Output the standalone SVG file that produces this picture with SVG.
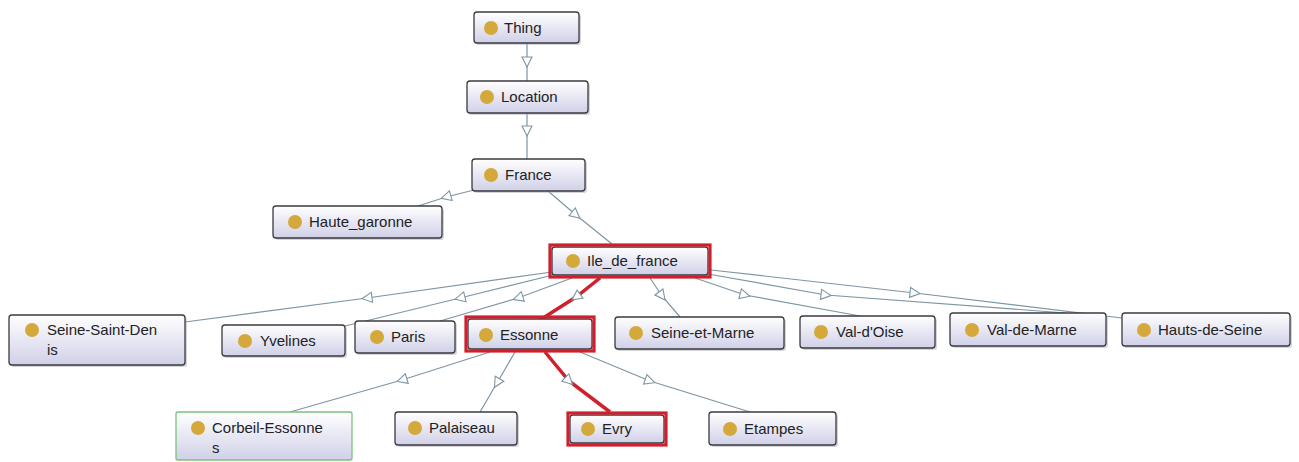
<svg xmlns="http://www.w3.org/2000/svg" width="1299" height="462" viewBox="0 0 1299 462">
<style>
.node rect.box{fill:url(#g);stroke:#3a3a40;stroke-width:1.3}
.node rect.sh{fill:#b0b0b8;opacity:.55}
.node circle{fill:#d4a83a}
.node text{font-family:"Liberation Sans",Arial,sans-serif;font-size:15px;fill:#222}
.hl{fill:none;stroke:#d0202e;stroke-width:3.2}
.edges path{fill:none;stroke:#7d96a3;stroke-width:1.2;marker-mid:url(#tri)}
.edges path.red{stroke:#d0202e;stroke-width:3.5}
</style>
<defs>
<linearGradient id="g" x1="0" y1="0" x2="0" y2="1">
<stop offset="0" stop-color="#ffffff"/>
<stop offset="1" stop-color="#d0d0e8"/>
</linearGradient>
<marker id="tri" viewBox="0 0 12 12" refX="6" refY="6" markerWidth="12" markerHeight="12" markerUnits="userSpaceOnUse" orient="auto">
<path d="M1,1 L11,6 L1,11 Z" fill="#ffffff" stroke="#7d96a3" stroke-width="1.1"/>
</marker>
</defs>
<rect width="1299" height="462" fill="#ffffff"/>
<g class="edges">
<path d="M527,43 L527,62 L527,81"/>
<path d="M527,113 L527,131 L527,159"/>
<path d="M474,190 L446,197 L418,206"/>
<path d="M548,191 L576,215 L612,244"/>
<path d="M552,272 L367,298 L185,322"/>
<path d="M553,275 L460,298 L345,326"/>
<path d="M572,278 L518,298 L440,321"/>
<path class="red" d="M600,278 L576,297 L540,320"/>
<path d="M650,278 L662,296 L680,317"/>
<path d="M695,278 L745,295 L860,316"/>
<path d="M708,274 L826,295 L1066,313"/>
<path d="M711,270 L915,293 L1122,318"/>
<path d="M490,352 L402,380 L290,412"/>
<path d="M515,352 L497,383 L480,412"/>
<path class="red" d="M545,352 L569,381 L610,412"/>
<path d="M580,352 L650,381 L750,412"/>
</g>
<g id="thing" class="node"><rect class="sh" x="476" y="14" width="105" height="31" rx="3"/><rect class="box" x="474" y="12" width="105" height="31" rx="3"/><circle cx="491" cy="28" r="7"/><text x="504" y="33">Thing</text></g>
<g id="location" class="node"><rect class="sh" x="469" y="83" width="121" height="32" rx="3"/><rect class="box" x="467" y="81" width="121" height="32" rx="3"/><circle cx="487" cy="97" r="7"/><text x="501" y="102">Location</text></g>
<g id="france" class="node"><rect class="sh" x="474" y="161" width="113" height="32" rx="3"/><rect class="box" x="472" y="159" width="113" height="32" rx="3"/><circle cx="491" cy="175" r="7"/><text x="505" y="180">France</text></g>
<g id="haute_garonne" class="node"><rect class="sh" x="275" y="208" width="169" height="32" rx="3"/><rect class="box" x="273" y="206" width="169" height="32" rx="3"/><circle cx="295" cy="222" r="7"/><text x="309" y="227">Haute_garonne</text></g>
<g id="ile_de_france" class="node"><rect class="sh" x="554" y="249" width="156" height="28" rx="3"/><rect class="box" x="552" y="247" width="156" height="28" rx="3"/><circle cx="573" cy="261" r="7"/><text x="587" y="266">Ile_de_france</text><rect class="hl" x="550" y="245" width="160" height="32"/></g>
<g id="seine_saint_denis" class="node"><rect class="sh" x="11" y="317" width="176" height="50" rx="3"/><rect class="box" x="9" y="315" width="176" height="50" rx="3"/><circle cx="32" cy="330" r="7"/><text x="47" y="335">Seine-Saint-Den</text><text x="47" y="355">is</text></g>
<g id="yvelines" class="node"><rect class="sh" x="224" y="327" width="123" height="31" rx="3"/><rect class="box" x="222" y="325" width="123" height="31" rx="3"/><circle cx="245" cy="341" r="7"/><text x="260" y="346">Yvelines</text></g>
<g id="paris" class="node"><rect class="sh" x="357" y="323" width="100" height="32" rx="3"/><rect class="box" x="355" y="321" width="100" height="32" rx="3"/><circle cx="377" cy="337" r="7"/><text x="391" y="342">Paris</text></g>
<g id="essonne" class="node"><rect class="sh" x="470" y="321" width="124" height="30" rx="3"/><rect class="box" x="468" y="319" width="124" height="30" rx="3"/><circle cx="486" cy="335" r="7"/><text x="500" y="340">Essonne</text><rect class="hl" x="466" y="317" width="128" height="34"/></g>
<g id="seine_et_marne" class="node"><rect class="sh" x="617" y="319" width="169" height="32" rx="3"/><rect class="box" x="615" y="317" width="169" height="32" rx="3"/><circle cx="636" cy="333" r="7"/><text x="651" y="338">Seine-et-Marne</text></g>
<g id="val_d_oise" class="node"><rect class="sh" x="802" y="318" width="135" height="32" rx="3"/><rect class="box" x="800" y="316" width="135" height="32" rx="3"/><circle cx="821" cy="332" r="7"/><text x="836" y="337">Val-d'Oise</text></g>
<g id="val_de_marne" class="node"><rect class="sh" x="952" y="315" width="156" height="33" rx="3"/><rect class="box" x="950" y="313" width="156" height="33" rx="3"/><circle cx="972" cy="330" r="7"/><text x="987" y="335">Val-de-Marne</text></g>
<g id="hauts_de_seine" class="node"><rect class="sh" x="1124" y="315" width="168" height="33" rx="3"/><rect class="box" x="1122" y="313" width="168" height="33" rx="3"/><circle cx="1144" cy="330" r="7"/><text x="1158" y="335">Hauts-de-Seine</text></g>
<g id="corbeil_essonnes" class="node"><rect class="box" x="176" y="412" width="176" height="48" rx="2" style="stroke:#7cc07c"/><circle cx="198" cy="428" r="7"/><text x="212" y="433">Corbeil-Essonne</text><text x="212" y="453">s</text></g>
<g id="palaiseau" class="node"><rect class="sh" x="397" y="414" width="122" height="33" rx="3"/><rect class="box" x="395" y="412" width="122" height="33" rx="3"/><circle cx="415" cy="428" r="7"/><text x="429" y="433">Palaiseau</text></g>
<g id="evry" class="node"><rect class="sh" x="572" y="417" width="94" height="28" rx="3"/><rect class="box" x="570" y="415" width="94" height="28" rx="3"/><circle cx="588" cy="429" r="7"/><text x="602" y="434">Evry</text><rect class="hl" x="568" y="413" width="98" height="32"/></g>
<g id="etampes" class="node"><rect class="sh" x="711" y="414" width="127" height="33" rx="3"/><rect class="box" x="709" y="412" width="127" height="33" rx="3"/><circle cx="730" cy="429" r="7"/><text x="744" y="434">Etampes</text></g>
</svg>
